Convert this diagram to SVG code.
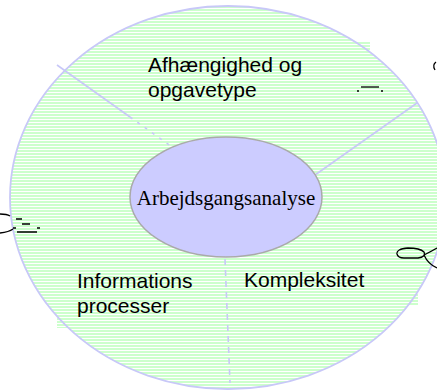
<svg xmlns="http://www.w3.org/2000/svg" width="437" height="392" viewBox="0 0 437 392">
<defs>
<pattern id="stripes" patternUnits="userSpaceOnUse" width="8" height="3">
<rect x="0" y="0" width="8" height="2" fill="#ccffcc"/>
<rect x="0" y="2" width="8" height="1" fill="#ffffff"/>
</pattern>
<style>
.sans{font-family:"Liberation Sans",Arial,sans-serif;font-size:21px;fill:#000}
.serif{font-family:"Liberation Serif","Times New Roman",serif;font-size:21px;fill:#000}
.div{stroke:#c8c8f8;stroke-width:1.6;fill:none}
.ink{stroke:#000;stroke-width:1.3;fill:none}
</style>
</defs>
<rect width="437" height="392" fill="#fff"/>
<g id="outer">
<rect x="135" y="42" width="235" height="70" fill="url(#stripes)"/>
<rect x="240" y="262" width="178" height="43" fill="url(#stripes)"/>
<rect x="57" y="262" width="150" height="66" fill="url(#stripes)"/>
<ellipse cx="228" cy="197.5" rx="218" ry="191.5" fill="url(#stripes)" stroke="#c8c8f8" stroke-width="1.8"/>
</g>
<g id="connectors">
<path class="div" d="M57,65 L130,117"/>
<path class="div" d="M130,117 L172,147" stroke-dasharray="3,6"/>
<path class="div" d="M417,103 L315,175"/>
<path class="div" d="M225,259 L230,383" stroke-dasharray="6,5"/>
</g>
<g id="center">
<ellipse cx="226" cy="197" rx="96" ry="60" fill="#ccccff" stroke="#aaaaaa" stroke-width="1.5"/>
<text class="serif" x="226" y="205" text-anchor="middle">Arbejdsgangsanalyse</text>
</g>
<g id="afhaengighed">
<text class="sans" x="148" y="72">Afhængighed og</text>
<text class="sans" x="148" y="97">opgavetype</text>
</g>
<g id="informations">
<text class="sans" x="77" y="288">Informations</text>
<text class="sans" x="77" y="313">processer</text>
</g>
<g id="kompleksitet">
<text class="sans" x="244" y="287">Kompleksitet</text>
</g>
<g id="artifacts">
<path class="ink" d="M436,62 Q432,65 435,70"/>
<path class="ink" d="M361,87 L379,87" stroke-width="1"/>
<path class="ink" d="M357,91 L359,91 M381,91 L383,91" stroke-width="1"/>
<path class="ink" d="M0,214 Q7,214 10,216 M0,233 Q9,232 13,229"/>
<path class="ink" d="M16,219 L22,219 M22,224 L30,224 M13,228 L16,228 M37,228 L40,228 M17,232 L37,232" stroke-width="1"/>
<path class="ink" d="M404,258 L418,258 Q426,257 424,252 Q420,248 408,248 Q396,249 397,254 Q398,258 404,258 M424,255 Q430,252 437,248 M424,255 Q428,264 437,268"/>
</g>
</svg>
